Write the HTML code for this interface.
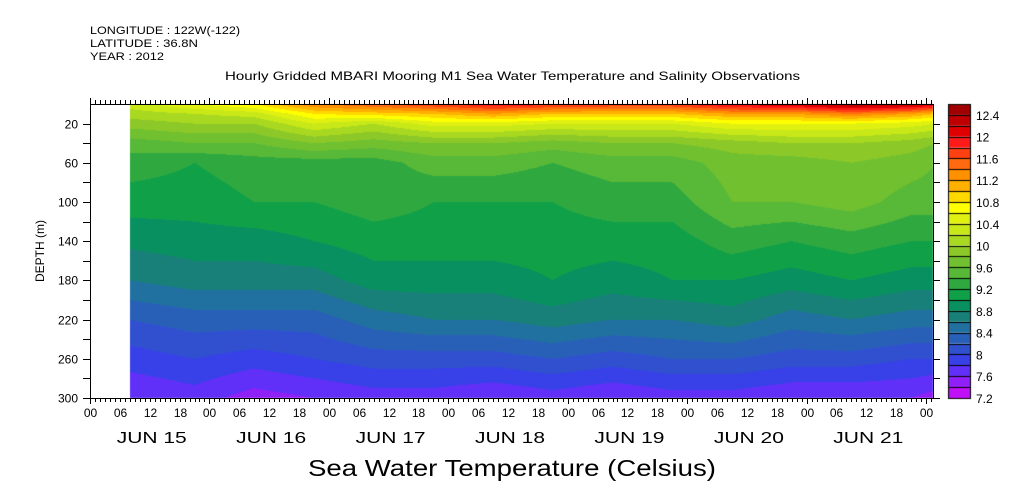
<!DOCTYPE html>
<html><head><meta charset="utf-8">
<style>
body{margin:0;background:#fff;width:1009px;height:504px;overflow:hidden;position:relative;font-family:"Liberation Sans",sans-serif}
canvas{position:absolute;left:0;top:0}
svg{position:absolute;left:0;top:0}
</style></head><body>
<canvas id="cv" width="1009" height="504"></canvas>
<svg id="sv" width="1009" height="504">
<text x="90" y="34" font-size="11" textLength="150" lengthAdjust="spacingAndGlyphs" font-family="Liberation Sans">LONGITUDE : 122W(-122)</text>
<text x="90" y="47" font-size="11" textLength="108" lengthAdjust="spacingAndGlyphs" font-family="Liberation Sans">LATITUDE : 36.8N</text>
<text x="90" y="60" font-size="11" textLength="74" lengthAdjust="spacingAndGlyphs" font-family="Liberation Sans">YEAR : 2012</text>
<text x="225" y="80" font-size="12" textLength="575" lengthAdjust="spacingAndGlyphs" font-family="Liberation Sans">Hourly Gridded MBARI Mooring M1 Sea Water Temperature and Salinity Observations</text>
<text x="308" y="476" font-size="23" textLength="408" lengthAdjust="spacingAndGlyphs" font-family="Liberation Sans">Sea Water Temperature (Celsius)</text>
</svg>
<script>
// data
const times=[8,21,33,45,57,69,81,93,105,117,129,141,153,165,170];
const depths=[0,10,20,40,60,100,140,180,220,260,300];
const temps=[
[10.3,10.6,10.8,11.4,11.6,11.8,12.0,11.9,11.8,11.8,12.1,12.2,12.5,12.4,12.2],
[10.1,10.2,10.3,10.8,10.9,11.0,11.2,11.0,11.0,11.0,11.2,11.2,11.4,11.2,11.0],
[9.9,10.0,10.0,10.4,10.2,10.5,10.5,10.4,10.4,10.4,10.6,10.6,10.6,10.5,10.4],
[9.5,9.6,9.6,9.8,9.7,9.8,9.8,9.7,9.8,9.8,9.9,10.0,10.0,9.9,9.8],
[9.3,9.2,9.3,9.3,9.3,9.5,9.5,9.4,9.5,9.5,9.7,9.7,9.8,9.7,9.6],
[9.1,9.1,9.2,9.2,9.3,9.2,9.2,9.2,9.3,9.3,9.6,9.6,9.7,9.5,9.5],
[8.85,8.9,8.9,9.0,9.1,9.1,9.1,9.1,9.1,9.1,9.3,9.2,9.3,9.2,9.2],
[8.6,8.7,8.7,8.7,8.9,8.9,8.9,9.0,8.9,9.0,9.0,8.9,9.0,8.9,8.9],
[8.2,8.3,8.3,8.3,8.5,8.6,8.6,8.7,8.6,8.6,8.7,8.5,8.6,8.5,8.5],
[7.9,8.0,7.9,8.0,8.1,8.1,8.1,8.2,8.1,8.2,8.2,8.1,8.1,8.0,8.0],
[7.6,7.7,7.5,7.6,7.7,7.7,7.6,7.7,7.6,7.7,7.7,7.6,7.6,7.6,7.5]];
const levels=[7.2,7.4,7.6,7.8,8.0,8.2,8.4,8.6,8.8,9.0,9.2,9.4,9.6,9.8,10.0,10.2,10.4,10.6,10.8,11.0,11.2,11.4,11.6,11.8,12.0,12.2,12.4];
const levelLabels=["7.2","7.6","8","8.4","8.8","9.2","9.6","10","10.4","10.8","11.2","11.6","12","12.4"];
const colors=["#c010f8","#9020f8","#6030f8","#3840e8","#3050d0","#2860b8","#2070a0","#188078","#089060","#10a048","#30a840","#58b838","#70c030","#8cc828","#a8d820","#c8e818","#e0f010","#ffff00","#ffd800","#ffb000","#ff9000","#ff6a10","#ff4010","#ff1a1a","#e00000","#c00000","#a00000"];
const hourLabels=["00","06","12","18"];
const dayLabels=["JUN 15","JUN 16","JUN 17","JUN 18","JUN 19","JUN 20","JUN 21"];

const X0=90,X1=933,Y0=104,Y1=398,HMAX=169.4;
const xs=h=>X0+(X1-X0)*h/HMAX;
const ys=d=>Y0+(Y1-Y0)*d/300;
const ih=x=>(x-X0)/(X1-X0)*HMAX;
const id=y=>(y-Y0)/(Y1-Y0)*300;
function seg(arr,v){let i=0;while(i<arr.length-2&&v>arr[i+1])i++;return [i,Math.max(0,Math.min(1,(v-arr[i])/(arr[i+1]-arr[i])))];}
function val(h,d){const [i,fi]=seg(times,h),[j,fj]=seg(depths,d);
 const a=temps[j][i],b=temps[j][i+1],c=temps[j+1][i],e=temps[j+1][i+1];
 return (a*(1-fi)+b*fi)*(1-fj)+(c*(1-fi)+e*fi)*fj;}
function band(v){let k=0;while(k<levels.length-1&&v>=levels[k+1])k++;return k;}
const ctx=document.getElementById('cv').getContext('2d');
const rgb=colors.map(c=>[parseInt(c.slice(1,3),16),parseInt(c.slice(3,5),16),parseInt(c.slice(5,7),16)]);
const xa=Math.round(xs(times[0])),W=X1-xa,H=Y1-Y0;
const img=ctx.createImageData(W,H);
for(let y=0;y<H;y++)for(let x=0;x<W;x++){const v=val(ih(xa+x+0.5),id(Y0+y+0.5));const c=rgb[band(v)];const p=(y*W+x)*4;img.data[p]=c[0];img.data[p+1]=c[1];img.data[p+2]=c[2];img.data[p+3]=255;}
ctx.putImageData(img,xa,Y0);
// colorbar
const CB0=948,CB1=970,CT=104,CBb=398,bh=(CBb-CT)/colors.length;
colors.forEach((c,k)=>{ctx.fillStyle=c;ctx.fillRect(CB0,CBb-(k+1)*bh,CB1-CB0,bh);});
ctx.strokeStyle='#000';ctx.lineWidth=1;
for(let k=0;k<=colors.length;k++){const y=Math.round(CBb-k*bh)+0.5;ctx.beginPath();ctx.moveTo(CB0,y);ctx.lineTo(CB1,y);ctx.stroke();}
ctx.strokeRect(CB0+0.5,CT+0.5,CB1-CB0,CBb-CT);

const sv=document.getElementById('sv');const NS='http://www.w3.org/2000/svg';
function el(tag,at,txt){const e=document.createElementNS(NS,tag);for(const k in at)e.setAttribute(k,at[k]);if(txt!=null)e.textContent=txt;sv.appendChild(e);return e;}
let r=el('rect',{x:X0+0.5,y:Y0+0.5,width:X1-X0,height:Y1-Y0,fill:'none',stroke:'#000'});


for(let h=0;h<=HMAX;h++){const x=Math.round(xs(h))+0.5;const L=h%24==0?6:4;
 el('line',{x1:x,x2:x,y1:Y1,y2:Y1+L,stroke:'#000'});el('line',{x1:x,x2:x,y1:Y0,y2:Y0-L,stroke:'#000'});
 if(h%6==0){const t=el('text',{x:x,y:Y1+19,'font-size':12,'text-anchor':'middle','font-family':'Liberation Sans'},hourLabels[(h/6)%4]);
 
 }}
dayLabels.forEach((d,i)=>{const t=el('text',{x:xs(24*i+12)-33,y:Y1+45,'font-size':16,textLength:70,lengthAdjust:'spacingAndGlyphs','font-family':'Liberation Sans'},d);
 
 });
for(let d=20;d<=300;d+=20){const y=Math.round(ys(d))+0.5;
 el('line',{x1:X0-7,x2:X0,y1:y,y2:y,stroke:'#000'});el('line',{x1:X1,x2:X1+7,y1:y,y2:y,stroke:'#000'});
 if(d%40==20||d==300){const t=el('text',{x:X0-12,y:y+4,'font-size':12,'text-anchor':'end','font-family':'Liberation Sans'},d);
 
 }}
const yl=el('text',{x:0,y:0,'font-size':12,'text-anchor':'middle','font-family':'Liberation Sans',transform:'translate(44,251) rotate(-90)'},'DEPTH (m)');


levelLabels.forEach((l,i)=>{const t=el('text',{x:976,y:CBb-i*2*bh+5,'font-size':12,'font-family':'Liberation Sans'},l);
 
 });
</script>
</body></html>
